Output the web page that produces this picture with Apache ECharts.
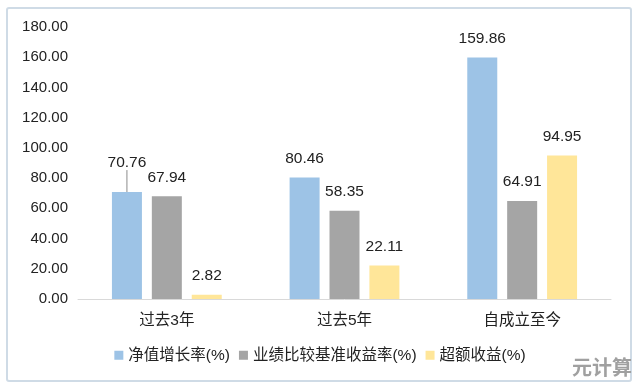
<!DOCTYPE html>
<html><head><meta charset="utf-8">
<script src="https://cdn.jsdelivr.net/npm/echarts@6/dist/echarts.min.js"></script>
<style>html,body{margin:0;padding:0;background:#fff}#c{width:640px;height:391px}</style>
</head><body><div id="c"></div>
<script>
const categories = ['过去3年', '过去5年', '自成立至今'];
const navGrowth = [70.76, 80.46, 159.86];
const benchmark = [67.94, 58.35, 64.91];
const excess = [2.82, 22.11, 94.95];
const seriesNames = ['净值增长率(%)', '业绩比较基准收益率(%)', '超额收益(%)'];
const yTicks = { min: 0, max: 180, interval: 20 };

const font = '"Liberation Sans", "Noto Sans CJK SC", Arial, sans-serif';
const chart = echarts.init(document.getElementById('c'), null, { renderer: 'canvas' });
const lbl = {
  show: true, position: 'top', distance: 11, color: '#222', fontSize: 15.5, fontFamily: font,
  formatter: p => Number(p.value).toFixed(2)
};
function mk(name, data, color, extra) {
  return Object.assign({
    name, type: 'bar', data, barWidth: 30, barGap: '33%',
    itemStyle: { color }, label: lbl, labelLine: { show: false }
  }, extra || {});
}
const navData = navGrowth.map((v, i) => i === 0
  ? { value: v, labelLine: { show: true, lineStyle: { color: '#8c8c8c', width: 1 } } }
  : v);
chart.setOption({
  animation: false,
  backgroundColor: '#fff',
  grid: { left: 78, width: 533, top: 27, bottom: 92, containLabel: false },
  xAxis: {
    type: 'category', data: categories,
    axisLine: { lineStyle: { color: '#d9d9d9', width: 1 } },
    axisTick: { show: false },
    axisLabel: { color: '#222', fontSize: 15.5, fontFamily: font, margin: 14 }
  },
  yAxis: {
    type: 'value', min: yTicks.min, max: yTicks.max, interval: yTicks.interval,
    splitLine: { show: false }, axisLine: { show: false }, axisTick: { show: false },
    axisLabel: { color: '#222', fontSize: 15, fontFamily: font, margin: 10, formatter: v => v.toFixed(2) }
  },
  legend: {
    bottom: 23, left: 'center', itemWidth: 9, itemHeight: 9, itemGap: 9,
    icon: 'rect',
    textStyle: { color: '#222', fontSize: 15.5, fontFamily: font },
    data: seriesNames
  },
  series: [
    mk(seriesNames[0], navData, '#9dc3e6', {
      labelLayout: p => (p.dataIndex === 0 ? { dy: -11 } : {})
    }),
    mk(seriesNames[1], benchmark, '#a5a5a5'),
    mk(seriesNames[2], excess, '#ffe699')
  ],
  graphic: [
    { type: 'rect', shape: { x: 7, y: 8, width: 624, height: 373, r: 2 },
      style: { fill: 'none', stroke: '#cfdbe6', lineWidth: 2 }, silent: true },
    { type: 'text', left: 572, top: 357,
      style: { text: '元计算', fill: '#a0a0a0', font: 'bold 20px "Noto Sans CJK SC"' } }
  ]
});
</script></body></html>
